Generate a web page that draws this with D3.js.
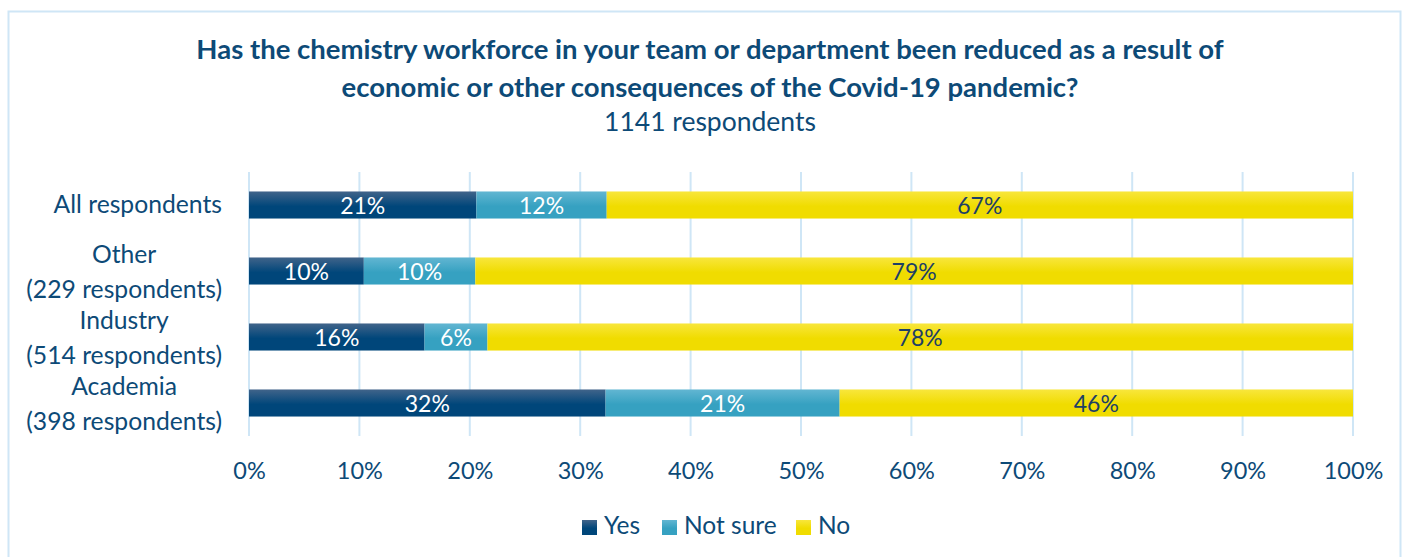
<!DOCTYPE html>
<html>
<head>
<meta charset="utf-8">
<script src="https://cdn.jsdelivr.net/npm/d3@7"></script>
<style>
  body { margin: 0; background: #fff; }
  text { font-family: Lato, "Open Sans", sans-serif; }
</style>
</head>
<body>
<script>

// data
const categories  = ['All respondents', 'Other', 'Industry', 'Academia'];
const respondents = [null, 229, 514, 398];
const series      = ['Yes', 'Not sure', 'No'];

// bar lengths (share of respondents, %)
const yesValues     = [20.6, 10.4, 15.9, 32.3];
const notSureValues = [11.8, 10.1, 5.7, 21.2];
const noValues      = [67.6, 79.5, 78.4, 46.5];

// data labels as printed on the chart
const yesLabels     = ['21%', '10%', '16%', '32%'];
const notSureLabels = ['12%', '10%', '6%', '21%'];
const noLabels      = ['67%', '79%', '78%', '46%'];

const xTicks = [0, 10, 20, 30, 40, 50, 60, 70, 80, 90, 100];

const titleLines = [
  'Has the chemistry workforce in your team or department been reduced as a result of',
  'economic or other consequences of the Covid-19 pandemic?'
];
const subtitle = '1141 respondents';

const WIDTH = 1404, HEIGHT = 557;
const TEXT = '#0d4a77';

const rows = categories.map((c, i) => ({
  category: c,
  'Yes': yesValues[i],
  'Not sure': notSureValues[i],
  'No': noValues[i]
}));
const labels = { 'Yes': yesLabels, 'Not sure': notSureLabels, 'No': noLabels };

const svg = d3.select('body').append('svg')
  .attr('width', WIDTH)
  .attr('height', HEIGHT);

// gradients like the office fill
const defs = svg.append('defs');
const fills = {
  'Yes':      ['#41648a', '#00467a'],
  'Not sure': ['#62b6d2', '#36a1c1'],
  'No':       ['#f8e63c', '#f0dc00']
};
series.forEach((s, i) => {
  const g = defs.append('linearGradient')
    .attr('id', 'grad' + i)
    .attr('x1', 0).attr('y1', 0).attr('x2', 0).attr('y2', 1);
  g.append('stop').attr('offset', '0%').attr('stop-color', fills[s][0]);
  g.append('stop').attr('offset', '55%').attr('stop-color', fills[s][1]);
  g.append('stop').attr('offset', '100%').attr('stop-color', fills[s][1]);
});

// chart border
svg.append('rect')
  .attr('x', 8.5).attr('y', 11.5)
  .attr('width', WIDTH - 12).attr('height', HEIGHT)
  .attr('fill', 'none')
  .attr('stroke', '#cfe6f6')
  .attr('stroke-width', 2);

// titles
svg.selectAll('.title')
  .data(titleLines)
  .enter().append('text')
    .attr('class', 'title')
    .attr('x', 710)
    .attr('y', (d, i) => 59 + i * 38)
    .attr('text-anchor', 'middle')
    .style('font-size', '27.5px')
    .style('font-weight', 'bold')
    .style('fill', TEXT)
    .text((d) => d);

svg.append('text')
  .attr('x', 710)
  .attr('y', 131)
  .attr('text-anchor', 'middle')
  .style('font-size', '26.5px')
  .style('fill', TEXT)
  .text(subtitle);

const x = d3.scaleLinear()
  .domain([0, 100])
  .range([249, 1353]);

const y = d3.scaleBand()
  .domain(categories)
  .range([172, 436])
  .paddingInner(0.59)
  .paddingOuter(0.295);

// gridlines
svg.append('g')
  .selectAll('line')
  .data(xTicks)
  .enter().append('line')
    .attr('x1', (d) => x(d)).attr('x2', (d) => x(d))
    .attr('y1', 172).attr('y2', 436)
    .attr('stroke', '#cfe6f6')
    .attr('stroke-width', 2);

// x axis labels
const xAxis = svg.append('g')
  .attr('transform', 'translate(0, 479)')
  .call(d3.axisBottom(x).tickValues(xTicks).tickSize(0).tickFormat((d) => d + '%'));
xAxis.select('.domain').remove();
xAxis.selectAll('text')
  .attr('dy', 0)
  .attr('y', 0)
  .style('font-family', 'Lato, sans-serif')
  .style('font-size', '23.5px')
  .style('fill', TEXT);

// stacked bars
const stacked = d3.stack().keys(series)(rows);

const layer = svg.selectAll('.layer')
  .data(stacked)
  .enter().append('g')
    .attr('class', 'layer')
    .attr('fill', (d, i) => `url(#grad${i})`);

layer.selectAll('rect')
  .data((d) => d)
  .enter().append('rect')
    .attr('x', (d) => x(d[0]))
    .attr('y', (d) => y(d.data.category))
    .attr('width', (d) => x(d[1]) - x(d[0]))
    .attr('height', y.bandwidth());

layer.selectAll('text')
  .data((d) => d.map((p, i) => ({ p, label: labels[d.key][i], key: d.key })))
  .enter().append('text')
    .attr('x', (d) => (x(d.p[0]) + x(d.p[1])) / 2)
    .attr('y', (d) => y(d.p.data.category) + y.bandwidth() / 2 + 8.5)
    .attr('text-anchor', 'middle')
    .style('font-size', '23px')
    .style('fill', (d) => d.key === 'No' ? '#1d3f66' : '#fff')
    .text((d) => d.label);

// category labels, centred lines in a right-aligned block
const catGroups = svg.selectAll('.cat')
  .data(categories.map((c, i) => ({
    category: c,
    lines: respondents[i] ? [c, `(${respondents[i]} respondents)`] : [c]
  })))
  .enter().append('g')
    .attr('class', 'cat');

catGroups.each(function (d) {
  const g = d3.select(this);
  const mid = y(d.category) + y.bandwidth() / 2;
  const top = d.lines.length === 1 ? mid + 8 : mid - 8.5;
  const texts = g.selectAll('text')
    .data(d.lines)
    .enter().append('text')
      .attr('y', (t, i) => top + i * 35)
      .attr('text-anchor', 'middle')
      .style('font-size', '24.7px')
      .style('fill', TEXT)
      .text((t) => t);
  let w = 0;
  texts.each(function () { w = Math.max(w, this.getComputedTextLength()); });
  texts.attr('x', 222 - w / 2);
});

// legend
const legendX = [582, 662, 796];
const legend = svg.selectAll('.legend')
  .data(series)
  .enter().append('g')
    .attr('class', 'legend')
    .attr('transform', (d, i) => `translate(${legendX[i]}, 520)`);

legend.append('rect')
  .attr('width', 15)
  .attr('height', 15)
  .attr('fill', (d, i) => `url(#grad${i})`);

legend.append('text')
  .attr('x', 22)
  .attr('y', 14)
  .style('font-size', '24.5px')
  .style('fill', TEXT)
  .text((d) => d);

</script>
</body>
</html>
